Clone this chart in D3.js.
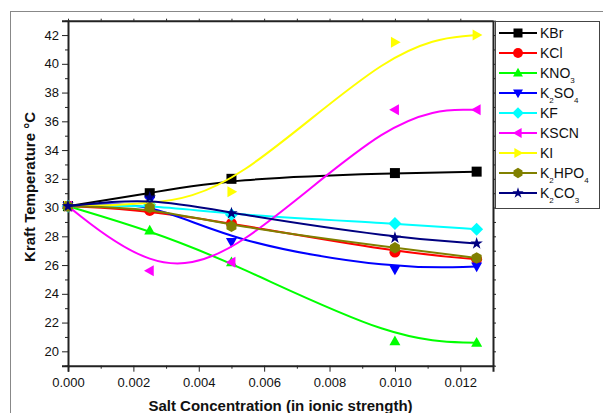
<!DOCTYPE html>
<meta charset="utf-8">
<html>
<head>
  <script src="https://d3js.org/d3.v7.min.js"></script>
  <style>
    body { margin: 0; background: #fff; }
    text { font-family: Arial, "Liberation Sans", sans-serif; fill: #111; }
  </style>
</head>
<body>
  <svg></svg>
  <script type="text/javascript">
    // data
    var conc = [0, 0.0025, 0.005, 0.010, 0.0125]
    var KBr    = [30.1, 31.0, 32.0, 32.4, 32.5]
    var KCl    = [30.1, 29.8, 28.9, 26.9, 26.4]
    var KNO3   = [30.1, 28.4, 26.2, 20.7, 20.6]
    var K2SO4  = [30.1, 30.5, 27.6, 25.7, 25.9]
    var KF     = [30.1, 30.2, 29.5, 28.9, 28.5]
    var KSCN   = [30.1, 25.6, 26.2, 36.8, 36.8]
    var KI     = [30.1, 30.2, 31.1, 41.5, 42.0]
    var K2HPO4 = [30.1, 30.0, 28.7, 27.2, 26.5]
    var K2CO3  = [30.1, 30.7, 29.6, 27.9, 27.5]
    var xTicks = [0, 0.002, 0.004, 0.006, 0.008, 0.010, 0.012]
    var yTicks = [20, 22, 24, 26, 28, 30, 32, 34, 36, 38, 40, 42]

    // name parts: [text, isSubscript]
    var series = [
      { name: [['KBr', 0]], values: KBr, color: '#000000', symbol: 'square' },
      { name: [['KCl', 0]], values: KCl, color: '#ff0000', symbol: 'circle' },
      { name: [['KNO', 0], ['3', 1]], values: KNO3, color: '#00ff00', symbol: 'up' },
      { name: [['K', 0], ['2', 1], ['SO', 0], ['4', 1]], values: K2SO4, color: '#0000ff', symbol: 'down' },
      { name: [['KF', 0]], values: KF, color: '#00ffff', symbol: 'diamond' },
      { name: [['KSCN', 0]], values: KSCN, color: '#ff00ff', symbol: 'left' },
      { name: [['KI', 0]], values: KI, color: '#ffff00', symbol: 'right' },
      { name: [['K', 0], ['2', 1], ['HPO', 0], ['4', 1]], values: K2HPO4, color: '#808000', symbol: 'hex' },
      { name: [['K', 0], ['2', 1], ['CO', 0], ['3', 1]], values: K2CO3, color: '#000080', symbol: 'star' }
    ]

    var width = 603, height = 413
    var svg = d3.select('svg').attr('width', width).attr('height', height)

    // outer frame of the graph page
    svg.append('rect').attr('x', 10.5).attr('y', 11.5)
      .attr('width', 700).attr('height', 500)
      .attr('fill', 'none').attr('stroke', '#888').attr('stroke-width', 1)

    var x = d3.scaleLinear().domain([0, 0.013]).range([68, 493])
    var y = d3.scaleLinear().domain([19, 43]).range([365.7, 20.7])

    var axisColor = '#222'

    // bottom axis
    var gx = svg.append('g').attr('transform', 'translate(0,' + y(19) + ')')
      .call(d3.axisBottom(x).tickValues(xTicks).tickFormat(d3.format('.3f')).tickSize(6).tickPadding(6))
    gx.selectAll('.tick text').attr('font-size', 13)
    svg.append('g').attr('transform', 'translate(0,' + y(19) + ')')
      .call(d3.axisBottom(x).tickValues(d3.range(1, 13, 2).map(d => d / 1000)).tickFormat('').tickSize(3))
      .select('.domain').remove()

    // top axis (mirror ticks)
    svg.append('g').attr('transform', 'translate(0,' + y(43) + ')')
      .call(d3.axisTop(x).tickValues(d3.range(0, 13, 1).map(d => d / 1000)).tickFormat('').tickSizeInner(2).tickSizeOuter(0))

    // left axis
    var gy = svg.append('g').attr('transform', 'translate(' + x(0) + ',0)')
      .call(d3.axisLeft(y).tickValues(yTicks).tickSize(6).tickPadding(3))
    gy.selectAll('.tick text').attr('font-size', 13)
    svg.append('g').attr('transform', 'translate(' + x(0) + ',0)')
      .call(d3.axisLeft(y).tickValues(d3.range(19, 44, 2)).tickFormat('').tickSize(3))
      .select('.domain').remove()

    // right axis (mirror ticks)
    svg.append('g').attr('transform', 'translate(' + x(0.013) + ',0)')
      .call(d3.axisRight(y).tickValues(d3.range(19, 44, 1)).tickFormat('').tickSizeInner(3).tickSizeOuter(0))

    svg.selectAll('.domain').attr('stroke', axisColor).attr('stroke-width', 2)
    svg.selectAll('.tick line').attr('stroke', axisColor).attr('stroke-width', 1)

    // axis titles
    svg.append('text')
      .attr('transform', 'translate(35,187) rotate(-90)')
      .attr('text-anchor', 'middle').attr('font-size', 15).attr('font-weight', 'bold')
      .text('Kraft Temperature °C')
    svg.append('text')
      .attr('x', 280.5).attr('y', 411)
      .attr('text-anchor', 'middle').attr('font-size', 15).attr('font-weight', 'bold')
      .text('Salt Concentration (in ionic strength)')

    // marker shapes
    function symbolPath(s, r) {
      var pts
      if (s === 'square') pts = [[-r, -r], [r, -r], [r, r], [-r, r]]
      else if (s === 'up') pts = [[0, -r * 1.15], [r * 1.1, r * 0.8], [-r * 1.1, r * 0.8]]
      else if (s === 'down') pts = [[0, r * 1.15], [r * 1.1, -r * 0.8], [-r * 1.1, -r * 0.8]]
      else if (s === 'left') pts = [[-r * 1.15, 0], [r * 0.8, r * 1.1], [r * 0.8, -r * 1.1]]
      else if (s === 'right') pts = [[r * 1.15, 0], [-r * 0.8, r * 1.1], [-r * 0.8, -r * 1.1]]
      else if (s === 'diamond') pts = [[0, -r * 1.3], [r * 1.3, 0], [0, r * 1.3], [-r * 1.3, 0]]
      else if (s === 'hex') pts = d3.range(6).map(i => [r * 1.15 * Math.cos(Math.PI / 3 * i + Math.PI / 6), r * 1.15 * Math.sin(Math.PI / 3 * i + Math.PI / 6)])
      else if (s === 'star') pts = d3.range(10).map(i => {
        var rr = i % 2 ? r * 0.5 : r * 1.3
        var a = -Math.PI / 2 + i * Math.PI / 5
        return [rr * Math.cos(a), rr * Math.sin(a)]
      })
      if (s === 'circle') return d3.symbol().type(d3.symbolCircle).size(Math.PI * r * r * 1.2)()
      return 'M' + pts.map(p => p.join(',')).join('L') + 'Z'
    }

    var line = d3.line()
      .x(function (d, i) { return x(conc[i]) })
      .y(function (d) { return y(d) })
      .curve(d3.curveBasis)

    var lineGroup = svg.append('g')
    series.forEach(function (s) {
      var g = lineGroup.append('g')
      g.append('path').attr('d', line(s.values))
        .attr('fill', 'none').attr('stroke', s.color).attr('stroke-width', 2)
      g.selectAll('path.mark').data(s.values).enter().append('path')
        .attr('class', 'mark')
        .attr('transform', function (d, i) { return 'translate(' + x(conc[i]) + ',' + y(d) + ')' })
        .attr('d', symbolPath(s.symbol, 5))
        .attr('fill', s.color)
    })

    // legend
    var legend = svg.append('g')
    legend.append('rect').attr('x', 495.5).attr('y', 21.5).attr('width', 104).attr('height', 187)
      .attr('fill', '#fff').attr('stroke', '#444').attr('stroke-width', 1)
    series.forEach(function (s, i) {
      var ly = 33 + i * 20
      legend.append('line').attr('x1', 499).attr('x2', 537).attr('y1', ly).attr('y2', ly)
        .attr('stroke', s.color).attr('stroke-width', 2)
      legend.append('path').attr('transform', 'translate(518,' + ly + ')')
        .attr('d', symbolPath(s.symbol, 4.5)).attr('fill', s.color)
      var t = legend.append('text').attr('x', 540).attr('y', ly + 5).attr('font-size', 14)
      s.name.forEach(function (p) {
        var span = t.append('tspan').text(p[0])
        if (p[1]) span.attr('font-size', 8).attr('dy', 5)
        else if (t.selectAll('tspan').size() > 1) span.attr('dy', -5)
      })
    })
  </script>
</body>
</html>
